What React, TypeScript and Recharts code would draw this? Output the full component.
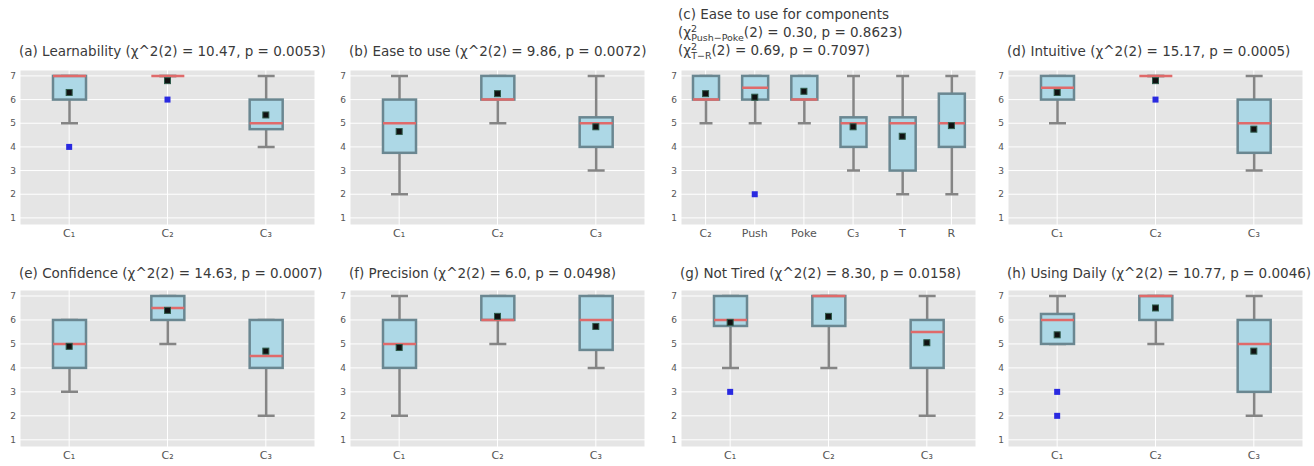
import React from 'react';
import { ComposedChart, Bar, Scatter, XAxis, YAxis, CartesianGrid } from 'recharts';

// ---------- data ----------
const Y_TICKS = [1, 2, 3, 4, 5, 6, 7];
const CATS_3 = ['C₁', 'C₂', 'C₃'];
const CATS_C = ['C₂', 'Push', 'Poke', 'C₃', 'T', 'R'];

// (a) Learnability
const aLow = [5, 7, 4];
const aQ1 = [6, 7, 4.75];
const aMed = [7, 7, 5];
const aQ3 = [7, 7, 6];
const aHigh = [7, 7, 7];
const aMean = [6.3, 6.8, 5.35];
const aOut = [[4], [6], []];

// (b) Ease to use
const bLow = [2, 5, 3];
const bQ1 = [3.75, 6, 4];
const bMed = [5, 6, 5];
const bQ3 = [6, 7, 5.25];
const bHigh = [7, 7, 7];
const bMean = [4.65, 6.25, 4.85];
const bOut = [[], [], []];

// (c) Ease to use for components
const cLow = [5, 5, 5, 3, 2, 2];
const cQ1 = [6, 6, 6, 4, 3, 4];
const cMed = [6, 6.5, 6, 5, 5, 5];
const cQ3 = [7, 7, 7, 5.25, 5.25, 6.25];
const cHigh = [7, 7, 7, 7, 7, 7];
const cMean = [6.25, 6.1, 6.35, 4.85, 4.45, 4.9];
const cOut = [[], [2], [], [], [], []];

// (d) Intuitive
const dLow = [5, 7, 3];
const dQ1 = [6, 7, 3.75];
const dMed = [6.5, 7, 5];
const dQ3 = [7, 7, 6];
const dHigh = [7, 7, 7];
const dMean = [6.3, 6.8, 4.75];
const dOut = [[], [6], []];

// (e) Confidence
const eLow = [3, 5, 2];
const eQ1 = [4, 6, 4];
const eMed = [5, 6.5, 4.5];
const eQ3 = [6, 7, 6];
const eHigh = [6, 7, 6];
const eMean = [4.9, 6.4, 4.7];
const eOut = [[], [], []];

// (f) Precision
const fLow = [2, 5, 4];
const fQ1 = [4, 6, 4.75];
const fMed = [5, 6, 6];
const fQ3 = [6, 7, 7];
const fHigh = [7, 7, 7];
const fMean = [4.85, 6.15, 5.73];
const fOut = [[], [], []];

// (g) Not Tired
const gLow = [4, 4, 2];
const gQ1 = [5.75, 5.75, 4];
const gMed = [6, 7, 5.5];
const gQ3 = [7, 7, 6];
const gHigh = [7, 7, 7];
const gMean = [5.9, 6.15, 5.05];
const gOut = [[3], [], []];

// (h) Using Daily
const hLow = [5, 5, 2];
const hQ1 = [5, 6, 3];
const hMed = [6, 7, 5];
const hQ3 = [6.25, 7, 6];
const hHigh = [7, 7, 7];
const hMean = [5.38, 6.5, 4.7];
const hOut = [[3, 2], [], []];

const TITLE_A = '(a) Learnability (χ^2(2) = 10.47, p = 0.0053)';
const TITLE_B = '(b) Ease to use (χ^2(2) = 9.86, p = 0.0072)';
const TITLE_C1 = '(c) Ease to use for components';
const TITLE_C2_SUB = 'Push−Poke';
const TITLE_C2_REST = '(2) = 0.30, p = 0.8623)';
const TITLE_C3_SUB = 'T−R';
const TITLE_C3_REST = '(2) = 0.69, p = 0.7097)';
const TITLE_D = '(d) Intuitive (χ^2(2) = 15.17, p = 0.0005)';
const TITLE_E = '(e) Confidence (χ^2(2) = 14.63, p = 0.0007)';
const TITLE_F = '(f) Precision (χ^2(2) = 6.0, p = 0.0498)';
const TITLE_G = '(g) Not Tired (χ^2(2) = 8.30, p = 0.0158)';
const TITLE_H = '(h) Using Daily (χ^2(2) = 10.77, p = 0.0046)';

// ---------- layout / style ----------
const COL_LEFT = [20, 350, 681, 1008];
const PLOT_W = 295;
const ROW_TOP = [70, 290];
const ROW_H = [155, 157];
const Y_DOMAIN: [number, number] = [0.7, 7.25];
const FONT = 'DejaVu Sans, sans-serif';

const BOX_FILL = '#ADD8E6';
const BOX_EDGE = '#6a8791';
const WHISKER = '#858585';
const MEDIAN = '#e06a6a';

type PanelDef = {
  cats: string[];
  low: number[]; q1: number[]; med: number[]; q3: number[]; high: number[];
  mean: number[]; out: number[][];
  col: number; row: number; boxW: number; capW: number;
};

const PANELS: PanelDef[] = [
  { cats: CATS_3, low: aLow, q1: aQ1, med: aMed, q3: aQ3, high: aHigh, mean: aMean, out: aOut, col: 0, row: 0, boxW: 33, capW: 17 },
  { cats: CATS_3, low: bLow, q1: bQ1, med: bMed, q3: bQ3, high: bHigh, mean: bMean, out: bOut, col: 1, row: 0, boxW: 33, capW: 17 },
  { cats: CATS_C, low: cLow, q1: cQ1, med: cMed, q3: cQ3, high: cHigh, mean: cMean, out: cOut, col: 2, row: 0, boxW: 26, capW: 13 },
  { cats: CATS_3, low: dLow, q1: dQ1, med: dMed, q3: dQ3, high: dHigh, mean: dMean, out: dOut, col: 3, row: 0, boxW: 33, capW: 17 },
  { cats: CATS_3, low: eLow, q1: eQ1, med: eMed, q3: eQ3, high: eHigh, mean: eMean, out: eOut, col: 0, row: 1, boxW: 33, capW: 17 },
  { cats: CATS_3, low: fLow, q1: fQ1, med: fMed, q3: fQ3, high: fHigh, mean: fMean, out: fOut, col: 1, row: 1, boxW: 33, capW: 17 },
  { cats: CATS_3, low: gLow, q1: gQ1, med: gMed, q3: gQ3, high: gHigh, mean: gMean, out: gOut, col: 2, row: 1, boxW: 33, capW: 17 },
  { cats: CATS_3, low: hLow, q1: hQ1, med: hMed, q3: hQ3, high: hHigh, mean: hMean, out: hOut, col: 3, row: 1, boxW: 33, capW: 17 },
];

const REF_LO = Y_TICKS[0];
const REF_HI = Y_TICKS[Y_TICKS.length - 1];

const makeBoxShape = (capW: number) => (props: any) => {
  const { x, y, width, height, payload } = props;
  if (payload == null || !isFinite(y) || !isFinite(height)) return <g />;
  const k = height / (REF_HI - REF_LO);
  const py = (v: number) => y + (REF_HI - v) * k;
  const cx = x + width / 2;
  const yLow = py(payload.low), yHigh = py(payload.high);
  const yQ1 = py(payload.q1), yQ3 = py(payload.q3), yMed = py(payload.med);
  return (
    <g>
      <line x1={cx} x2={cx} y1={yHigh} y2={yQ3} stroke={WHISKER} strokeWidth={2.5} />
      <line x1={cx} x2={cx} y1={yQ1} y2={yLow} stroke={WHISKER} strokeWidth={2.5} />
      <line x1={cx - capW / 2} x2={cx + capW / 2} y1={yHigh} y2={yHigh} stroke={WHISKER} strokeWidth={2.5} />
      <line x1={cx - capW / 2} x2={cx + capW / 2} y1={yLow} y2={yLow} stroke={WHISKER} strokeWidth={2.5} />
      <rect x={x} y={yQ3} width={width} height={Math.max(0, yQ1 - yQ3)} fill={BOX_FILL} stroke={BOX_EDGE} strokeWidth={2.5} />
      <line x1={x} x2={x + width} y1={yMed} y2={yMed} stroke={MEDIAN} strokeWidth={2.5} />
    </g>
  );
};

const MeanShape = (props: any) => {
  const { cx, cy } = props;
  if (!isFinite(cx) || !isFinite(cy)) return <g />;
  return <rect x={cx - 3} y={cy - 3} width={6} height={6} fill="#111" stroke="#2f5a4a" strokeWidth={1} />;
};

const makeOutShape = (key: string) => (props: any) => {
  const { cx, cy, payload } = props;
  if (!payload || payload[key] == null || !isFinite(cx) || !isFinite(cy)) return <g />;
  return <rect x={cx - 3} y={cy - 3} width={6} height={6} fill="#2a2ae0" />;
};
const OutShape1 = makeOutShape('o1');
const OutShape2 = makeOutShape('o2');

const PanelChart = ({ p }: { p: PanelDef }) => {
  const rows = p.cats.map((name, i) => ({
    name,
    low: p.low[i], q1: p.q1[i], med: p.med[i], q3: p.q3[i], high: p.high[i],
    mean: p.mean[i],
    o1: p.out[i][0] ?? null,
    o2: p.out[i][1] ?? null,
  }));
  const left = COL_LEFT[p.col];
  const top = ROW_TOP[p.row];
  const h = ROW_H[p.row];
  return (
    <div style={{ position: 'absolute', left: left - 30, top: top - 10 }}>
      <ComposedChart width={PLOT_W + 40} height={h + 40} data={rows}
        margin={{ top: 10, right: 10, bottom: 0, left: 0 }} barCategoryGap={0}>
        <CartesianGrid stroke="#ffffff" strokeWidth={1} fill="#E5E5E5" />
        <XAxis dataKey="name" type="category" axisLine={false} tickLine={false} tickSize={0} tickMargin={4}
          height={30} interval={0} tick={{ fontSize: 11, fill: '#555', fontFamily: FONT }} />
        <YAxis type="number" domain={Y_DOMAIN} ticks={Y_TICKS} width={30} axisLine={false} tickLine={false}
          tickSize={2} tickMargin={2} allowDataOverflow tick={{ fontSize: 9, fill: '#555', fontFamily: FONT }} />
        <Bar dataKey={() => [REF_LO, REF_HI]} barSize={p.boxW} shape={makeBoxShape(p.capW)} isAnimationActive={false} />
        <Scatter dataKey="mean" shape={MeanShape} isAnimationActive={false} />
        <Scatter dataKey="o1" shape={OutShape1} isAnimationActive={false} />
        <Scatter dataKey="o2" shape={OutShape2} isAnimationActive={false} />
      </ComposedChart>
    </div>
  );
};

const TITLE_SIZE = 13.5;
const TITLE_COLOR = '#3a3a3a';

const Titles = () => {
  const row0 = ROW_TOP[0] - 14;
  const row1 = ROW_TOP[1] - 12;
  const simple: [string, number, number][] = [
    [TITLE_A, COL_LEFT[0] - 1, row0],
    [TITLE_B, COL_LEFT[1] - 1, row0],
    [TITLE_D, COL_LEFT[3] - 1, row0],
    [TITLE_E, COL_LEFT[0] - 1, row1],
    [TITLE_F, COL_LEFT[1] - 1, row1],
    [TITLE_G, COL_LEFT[2] - 1, row1],
    [TITLE_H, COL_LEFT[3] - 1, row1],
  ];
  const cx = COL_LEFT[2] - 3;
  return (
    <svg width={1314} height={466} style={{ position: 'absolute', left: 0, top: 0, pointerEvents: 'none' }}>
      <g fontFamily={FONT} fontSize={TITLE_SIZE} fill={TITLE_COLOR}>
        {simple.map(([t, x, y]) => (
          <text key={t} x={x} y={y}>{t}</text>
        ))}
        <text x={cx} y={19}>{TITLE_C1}</text>
        <text x={cx} y={37}>
          (χ<tspan dy={-5} fontSize={9.5}>2</tspan>
          <tspan dx={-6} dy={9} fontSize={9.5}>{TITLE_C2_SUB}</tspan>
          <tspan dy={-4}>{TITLE_C2_REST}</tspan>
        </text>
        <text x={cx} y={55}>
          (χ<tspan dy={-5} fontSize={9.5}>2</tspan>
          <tspan dx={-6} dy={9} fontSize={9.5}>{TITLE_C3_SUB}</tspan>
          <tspan dy={-4}>{TITLE_C3_REST}</tspan>
        </text>
      </g>
    </svg>
  );
};

export default function App() {
  return (
    <div style={{ position: 'fixed', left: 0, top: 0, width: 1314, height: 466, overflow: 'hidden', background: '#fff' }}>
      {PANELS.map((p, i) => <PanelChart key={i} p={p} />)}
      <Titles />
    </div>
  );
}
